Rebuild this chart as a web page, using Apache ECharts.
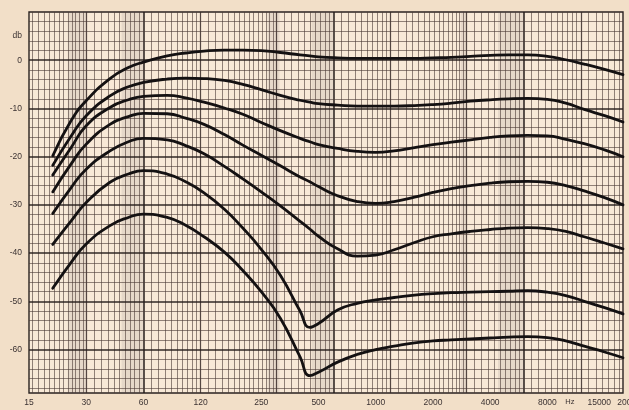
<!DOCTYPE html>
<html><head><meta charset="utf-8">
<script src="https://cdn.jsdelivr.net/npm/echarts@6/dist/echarts.min.js"></script>
<style>html,body{margin:0;padding:0;background:#f2dfc8;}#c{width:629px;height:410px;}</style>
</head><body><div id="c"></div>
<script>
// ---- data ----
const freqs = [20, 25, 30, 40, 50, 60, 80, 100, 125, 160, 200, 250, 315, 400, 450, 500, 630, 800, 1000, 1250, 1600, 2000, 2500, 3150, 4000, 5000, 6300, 8000, 10000, 12500, 16000, 20000];
const curve1 = [-19.8, -12.5, -8.4, -3.8, -1.5, -0.4, 0.9, 1.5, 1.9, 2.1, 2.1, 2.0, 1.6, 1.1, 0.9, 0.7, 0.5, 0.4, 0.4, 0.4, 0.4, 0.5, 0.6, 0.8, 1.0, 1.1, 1.1, 0.8, 0.1, -0.8, -1.9, -3.0];
const curve2 = [-21.8, -15.7, -11.5, -7.4, -5.5, -4.6, -3.9, -3.7, -3.8, -4.2, -5.0, -6.1, -7.3, -8.3, -8.7, -9.0, -9.3, -9.5, -9.5, -9.5, -9.4, -9.2, -8.9, -8.5, -8.2, -8.0, -7.9, -8.1, -8.9, -10.2, -11.5, -12.8];
const curve3 = [-23.8, -18.1, -13.6, -9.8, -8.2, -7.5, -7.3, -7.8, -8.7, -9.9, -11.2, -12.9, -14.6, -16.2, -16.9, -17.5, -18.3, -18.9, -19.1, -18.8, -18.1, -17.5, -17.0, -16.5, -16.0, -15.7, -15.6, -15.7, -16.4, -17.3, -18.6, -20.0];
const curve4 = [-27.3, -21.5, -17.4, -13.3, -11.7, -11.0, -11.1, -12.0, -13.3, -15.4, -17.6, -19.7, -21.9, -24.2, -25.2, -26.2, -28.1, -29.3, -29.7, -29.3, -28.4, -27.4, -26.6, -26.0, -25.5, -25.2, -25.1, -25.3, -26.0, -27.1, -28.5, -30.0];
const curve5 = [-31.8, -26.4, -22.6, -18.8, -16.9, -16.2, -16.5, -17.7, -19.4, -22.0, -24.6, -27.3, -30.2, -33.4, -35.0, -36.5, -39.1, -40.6, -40.4, -39.3, -37.8, -36.6, -36.0, -35.5, -35.1, -34.8, -34.7, -34.9, -35.5, -36.6, -37.9, -39.1];
const curve6 = [-38.2, -33.3, -29.5, -25.3, -23.6, -22.9, -23.6, -25.2, -27.5, -30.9, -34.8, -39.2, -44.6, -52.0, -55.4, -54.6, -51.8, -50.4, -49.7, -49.2, -48.7, -48.4, -48.2, -48.1, -48.0, -47.9, -47.8, -48.1, -48.8, -50.0, -51.3, -52.6];
const curve7 = [-47.3, -41.9, -38.1, -34.3, -32.6, -31.9, -32.6, -34.2, -36.6, -39.8, -43.6, -48.0, -53.5, -61.5, -65.4, -64.7, -62.6, -61.0, -60.0, -59.3, -58.6, -58.2, -58.0, -57.8, -57.6, -57.4, -57.3, -57.5, -58.2, -59.3, -60.5, -61.7];
const curves = [curve1, curve2, curve3, curve4, curve5, curve6, curve7];

const xTickValues = [15, 30, 60, 120, 250, 500, 1000, 2000, 4000, 8000, 15000, 20000];
const xTickLabels = ['15', '30', '60', '120', '250', '500', '1000', '2000', '4000', '8000', '15000', '20000'];
const xUnitLabel = 'Hz';
const xUnitAt = 10500;
const yLabelValues = [5, 0, -10, -20, -30, -40, -50, -60];
const yLabelTexts = ['db', '0', '-10', '-20', '-30', '-40', '-50', '-60'];

// ---- graph-paper styling (not data) ----
const thin = { color: 'rgba(75,58,54,0.6)', width: 1, type: 'solid' };
const mid = { color: 'rgba(55,42,40,0.85)', width: 1.2, type: 'solid' };
const bold = { color: 'rgba(38,30,28,0.95)', width: 1.6, type: 'solid' };

const gridLines = [];
[6, 60, 600, 6000].forEach(d => {
  const add = (p10) => {
    const f = d * p10 / 10;
    if (f > 15.01 && f < 19990) {
      const st = p10 === 10 ? bold : (p10 === 20 || p10 === 50 ? mid : thin);
      gridLines.push({ xAxis: f, lineStyle: st });
    }
  };
  for (let i = 10; i < 20; i += 1) add(i);
  for (let i = 20; i < 50; i += 2) add(i);
  for (let i = 50; i < 100; i += 5) add(i);
});
for (let v = -68; v < 10; v += 2) {
  gridLines.push({ yAxis: v, lineStyle: v % 10 === 0 ? bold : thin });
}
const labelFont = { color: '#3b3232', fontSize: 8.5, fontFamily: 'Liberation Sans' };
xTickValues.forEach((f, i) => {
  const last = i === xTickValues.length - 1;
  gridLines.push({
    xAxis: f,
    lineStyle: { color: 'rgba(0,0,0,0)', width: 0 },
    label: Object.assign({ show: true, position: 'start', distance: 5, formatter: xTickLabels[i],
      padding: last ? [0, 0, 0, 12] : 0 }, labelFont)
  });
});
gridLines.push({
  xAxis: xUnitAt,
  lineStyle: { color: 'rgba(0,0,0,0)', width: 0 },
  label: Object.assign({ show: true, position: 'start', distance: 5, formatter: xUnitLabel }, labelFont, { fontSize: 7.5 })
});

const bands = [[24, 30], [46, 60], [270, 312], [460, 600], [2800, 3000], [4400, 6000]];

const chart = echarts.init(document.getElementById('c'));
chart.setOption({
  animation: false,
  backgroundColor: '#f2dfc8',
  grid: { left: 29, right: 6, top: 12, bottom: 17, show: true,
    backgroundColor: '#f8e9d7', borderColor: '#2a2220', borderWidth: 1.4 },
  xAxis: { type: 'log', logBase: 10, min: 15, max: 20000,
    axisLine: { show: false }, axisTick: { show: false },
    axisLabel: { show: false }, splitLine: { show: false } },
  yAxis: { type: 'value', min: -69, max: 10,
    axisLine: { show: false }, axisTick: { show: false }, splitLine: { show: false },
    axisLabel: { customValues: yLabelValues, margin: 7, color: '#3b3232', fontSize: 8.5,
      fontFamily: 'Liberation Sans',
      formatter: v => { const i = yLabelValues.indexOf(v); return i >= 0 ? yLabelTexts[i] : ''; } } },
  series: [
    { type: 'line', name: 'paper', data: [], silent: true, z: 1,
      markArea: { silent: true, z: 1, itemStyle: { color: 'rgba(110,100,105,0.12)' },
        data: bands.map(b => [{ xAxis: b[0] }, { xAxis: b[1] }]) },
      markLine: { silent: true, z: 2, symbol: ['none', 'none'], animation: false,
        label: { show: false }, emphasis: { disabled: true }, data: gridLines } }
  ].concat(curves.map((c, k) => ({
    type: 'line', name: 'curve' + (k + 1), z: 10, smooth: 0.5, symbol: 'none', silent: true,
    lineStyle: { color: '#141112', width: 2.8, cap: 'round', join: 'round' },
    data: freqs.map((f, i) => [f, c[i]])
  })))
});
</script></body></html>
